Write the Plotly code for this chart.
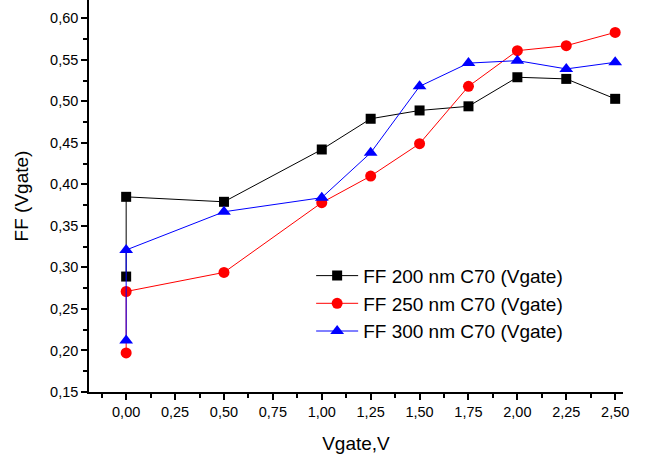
import plotly.graph_objects as go

vgate = [0.0, 0.0, 0.5, 1.0, 1.25, 1.5, 1.75, 2.0, 2.25, 2.5]
ff_200 = [0.289, 0.385, 0.379, 0.442, 0.479, 0.489, 0.494, 0.529, 0.527, 0.503]
ff_250 = [0.197, 0.271, 0.294, 0.378, 0.410, 0.449, 0.518, 0.561, 0.567, 0.583]
ff_300 = [0.212, 0.321, 0.367, 0.384, 0.438, 0.518, 0.546, 0.549, 0.539, 0.547]
names = ["FF 200 nm C70 (Vgate)", "FF 250 nm C70 (Vgate)", "FF 300 nm C70 (Vgate)"]
colors = ["#000000", "#ff0000", "#0000ff"]
symbols = ["square", "circle", "triangle-up"]
sizes = [10, 11, 12]

fig = go.Figure()
for ys, n, c, s, sz in zip([ff_200, ff_250, ff_300], names, colors, symbols, sizes):
    fig.add_trace(go.Scatter(x=vgate, y=ys, name=n, mode="lines+markers",
                             line=dict(color=c, width=1),
                             marker=dict(symbol=s, size=sz, color=c)))

axis_common = dict(showline=True, linecolor="black", linewidth=1.5, ticks="outside",
                   ticklen=6, tickwidth=1.5, tickcolor="black", showgrid=False,
                   zeroline=False, tickformat=".2f", mirror=False,
                   tickfont=dict(family="Liberation Sans, Arial", size=14.5, color="black"))

fig.update_layout(
    width=645, height=455,
    margin=dict(l=89, r=22, t=0, b=63),
    paper_bgcolor="white", plot_bgcolor="white",
    separators=", ",
    font=dict(family="Liberation Sans, Arial", size=19, color="black"),
    showlegend=True,
    legend=dict(x=0.416, y=0.345, xanchor="left", yanchor="top",
                bgcolor="rgba(0,0,0,0)", font=dict(size=19), tracegroupgap=0,
                itemsizing="trace", itemwidth=42),
    xaxis=dict(range=[-0.19, 2.54], tick0=0, dtick=0.25,
               minor=dict(ticks="outside", ticklen=4, tickcolor="black", dtick=0.125, tick0=0),
               title=dict(text="Vgate,V", font=dict(size=19), standoff=18),
               **axis_common),
    yaxis=dict(range=[0.15, 0.622], tick0=0.15, dtick=0.05,
               minor=dict(ticks="outside", ticklen=4, tickcolor="black", dtick=0.025, tick0=0.15),
               title=dict(text="FF (Vgate)", font=dict(size=19), standoff=16),
               **axis_common),
)

fig.write_html("out.html")
